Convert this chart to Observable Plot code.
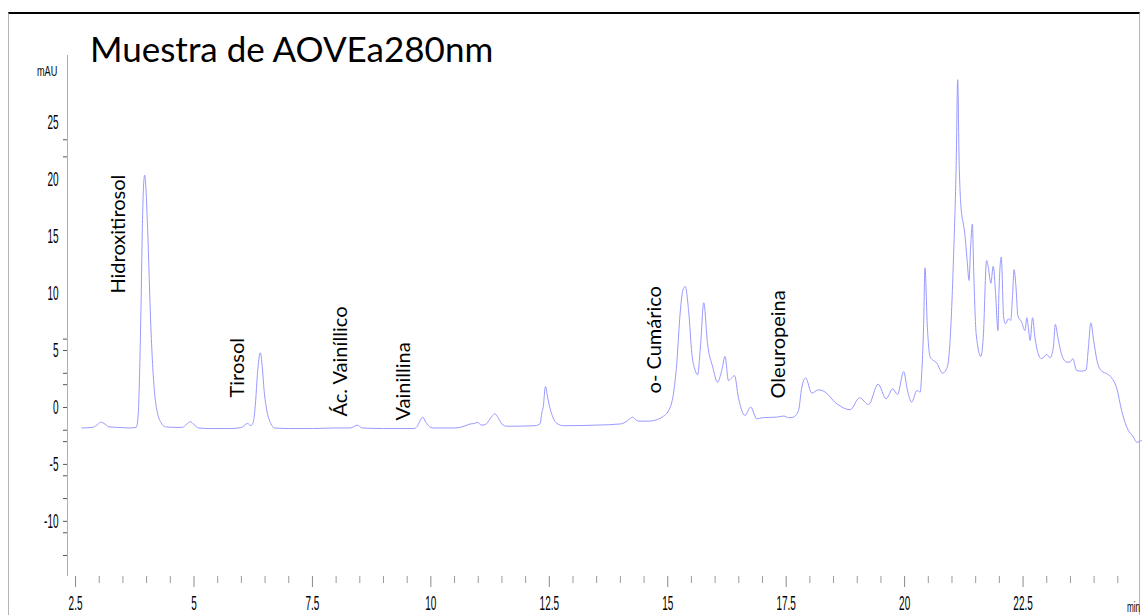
<!DOCTYPE html>
<html><head><meta charset="utf-8">
<script src="https://cdn.jsdelivr.net/npm/d3@7"></script>
<script src="https://cdn.jsdelivr.net/npm/@observablehq/plot@0.6"></script>
<style>
body{margin:0;background:#fff;}
#wrap{position:relative;width:1143px;height:615px;overflow:hidden;}
#border{position:absolute;left:8px;top:12px;width:1132px;height:620px;border-top:2px solid #000;border-left:1px solid #b4b4b4;border-right:1px solid #b4b4b4;box-sizing:border-box;}
#chart{position:absolute;left:0;top:0;}
#title{position:absolute;left:90px;top:31px;font:35px/35px Lato,sans-serif;color:#000;white-space:nowrap;}
.unit{position:absolute;font:14px/14px "Liberation Sans",Arial,sans-serif;color:#000;white-space:nowrap;transform-origin:0 0;}
</style>
</head><body>
<div id="wrap">
  <div id="border"></div>
  <div id="chart"></div>
  <div id="title">Muestra de AOVEa280nm</div>
  <div class="unit" style="left:37px;top:64px;transform:scaleX(0.65)">mAU</div>
  <div class="unit" style="left:1127px;top:600px;transform:scaleX(0.58)">min</div>
</div>
<script>
// retention time (min)
const times = [2.63,2.85,2.95,3.03,3.12,3.2,3.4,3.65,3.78,3.82,3.84,3.88,3.91,3.94,3.96,3.98,4.02,4.09,4.13,4.17,4.23,4.30,4.40,4.60,4.75,4.85,4.92,5.0,5.1,5.3,5.8,6.0,6.13,6.2,6.25,6.30,6.34,6.40,6.44,6.48,6.54,6.62,6.70,7.0,7.5,8.0,8.3,8.45,8.55,9.0,9.65,9.72,9.78,9.83,9.88,9.95,10.05,10.5,10.7,10.83,10.92,10.99,11.06,11.15,11.25,11.35,11.42,11.5,11.6,12.2,12.31,12.34,12.37,12.42,12.46,12.51,12.58,12.66,12.8,13.5,14.0,14.1,14.2,14.26,14.33,14.4,14.6,14.75,14.88,15.02,15.12,15.19,15.26,15.32,15.37,15.44,15.51,15.58,15.63,15.69,15.76,15.84,15.95,16.05,16.14,16.21,16.28,16.35,16.41,16.49,16.63,16.75,16.88,17.0,17.3,17.45,17.55,17.65,17.76,17.83,17.91,18.04,18.18,18.29,18.57,18.85,19.05,19.24,19.44,19.61,19.75,19.85,19.98,20.06,20.15,20.26,20.33,20.36,20.40,20.43,20.48,20.54,20.68,20.80,20.90,20.96,21.03,21.09,21.12,21.15,21.19,21.24,21.27,21.32,21.36,21.39,21.43,21.46,21.51,21.61,21.66,21.73,21.77,21.82,21.87,21.92,21.97,21.99,22.04,22.09,22.13,22.19,22.24,22.28,22.31,22.35,22.39,22.47,22.54,22.58,22.61,22.65,22.70,22.75,22.82,22.89,23.0,23.07,23.14,23.18,23.24,23.31,23.42,23.49,23.55,23.63,23.74,23.83,23.88,23.93,23.99,24.06,24.16,24.27,24.37,24.48,24.58,24.69,24.83,24.90,25.0];
// absorbance (mAU)
const absorbance = [-1.8,-1.75,-1.55,-1.3,-1.45,-1.7,-1.75,-1.8,-1.75,-0.8,1.2,8.5,15.8,19.8,20.4,19.6,15.8,7.05,3.5,1.2,-0.5,-1.3,-1.7,-1.75,-1.75,-1.45,-1.25,-1.5,-1.8,-1.85,-1.85,-1.75,-1.4,-1.6,-1.3,0.5,3.0,4.8,3.6,1.5,-0.3,-1.4,-1.8,-1.85,-1.85,-1.8,-1.8,-1.55,-1.8,-1.85,-1.85,-1.6,-1.1,-0.85,-1.2,-1.6,-1.8,-1.8,-1.65,-1.45,-1.4,-1.3,-1.55,-1.5,-1.0,-0.55,-0.9,-1.45,-1.65,-1.6,-1.4,-0.5,0.0,1.84,1.0,0.0,-0.9,-1.4,-1.6,-1.55,-1.45,-1.3,-1.0,-0.85,-1.1,-1.2,-1.2,-1.1,-0.85,-0.26,1.2,3.84,8.2,10.3,10.62,8.5,4.7,3.25,2.87,5.3,9.19,5.6,3.54,2.22,3.25,4.48,2.37,2.6,2.8,0.9,-0.7,0.03,-1.0,-0.9,-0.85,-0.75,-0.9,-0.85,-0.26,1.78,2.6,1.26,1.55,1.43,0.32,-0.2,0.85,0.26,2.05,0.76,1.64,1.14,3.15,1.49,0.47,1.49,1.35,2.96,7.05,12.26,7.05,4.42,3.89,3.01,3.54,5.88,12.9,21.7,28.77,21.7,17.6,16.1,15.25,12.9,11.15,13.8,16.1,11.7,6.47,4.48,6.17,12.9,12.2,10.9,12.4,10.0,6.76,10.0,13.2,7.93,7.35,7.79,7.64,10.0,12.1,10.6,8.08,7.49,6.76,7.88,7.05,5.88,7.88,6.17,4.71,4.28,4.65,4.36,5.3,7.29,6.03,4.71,3.98,3.98,4.28,3.25,3.19,3.3,5.3,7.43,5.88,4.13,3.19,2.96,2.6,1.64,-0.26,-1.73,-2.6,-3.05,-2.9];

// peak annotations
const peakNames = ["Hidroxitirosol","Tirosol","Ác. Vainíllico","Vainillina","o- Cumárico","Oleuropeina"];
const peakLabelTimes = [3.40,5.91,8.10,9.43,14.73,17.34];
const peakLabelValues = [10.0,0.88,-0.79,-1.14,1.23,0.79];

// axis ticks
const xMajor = [2.5,5,7.5,10,12.5,15,17.5,20,22.5];
const xMinor = [3,3.5,4,4.5,5.5,6,6.5,7,8,8.5,9,9.5,10.5,11,11.5,12,13,13.5,14,14.5,15.5,16,16.5,17,18,18.5,19,19.5,20.5,21,21.5,22,23,23.5,24,24.5];
const yMajor = [-10,-5,0,5,10,15,20,25];
const yTickMarks = [23.5,22,6,5,3,2,0,-2,-3,-5,-6,-8,-10,-11,-13];

const trace = times.map((t,i)=>({t, v: absorbance[i]}));
const peaks = peakNames.map((name,i)=>({name, t: peakLabelTimes[i], v: peakLabelValues[i]}));

const plot = Plot.plot({
  width: 1143, height: 615,
  marginLeft: 67, marginRight: 2, marginTop: 55, marginBottom: 39,
  style: {background: "transparent", overflow: "visible"},
  x: {domain: [2.33, 25]},
  y: {domain: [-14.84, 30.9]},
  marks: [
    Plot.ruleX([2.33], {stroke: "#b0b0b0"}),
    Plot.axisX(xMinor, {tickSize: 7, tickFormat: () => "", stroke: "#9a9a9a", label: null}),
    Plot.axisX(xMajor, {tickSize: 11, tickPadding: 8, tickFormat: d => String(d), stroke: "#8a8a8a",
      fontSize: 20, fontFamily: "Liberation Sans, Arial, sans-serif", fill: "#000", label: null}),
    Plot.axisY(yTickMarks, {tickSize: 4, tickFormat: () => "", stroke: "#555", label: null}),
    Plot.axisY(yMajor, {tickSize: 0, tickPadding: 9, tickFormat: d => String(d),
      fontSize: 20, fontFamily: "Liberation Sans, Arial, sans-serif", fill: "#000", label: null}),
    Plot.line(trace, {x: "t", y: "v", stroke: "#9999ff", strokeWidth: 1, curve: "monotone-x"}),
    Plot.text(peaks, {x: "t", y: "v", text: "name", rotate: -90, textAnchor: "start", lineAnchor: "middle",
      fontSize: 20, fontFamily: "Lato, sans-serif", fill: "#000"})
  ]
});
document.getElementById("chart").appendChild(plot);
// condensed axis numerals, as in the instrument print-out
plot.querySelectorAll('g[aria-label$="tick label"] text').forEach(el => {
  const tr = el.getAttribute("transform") || "";
  el.setAttribute("transform", tr + " scale(0.5,1)");
});
</script>
</body></html>
